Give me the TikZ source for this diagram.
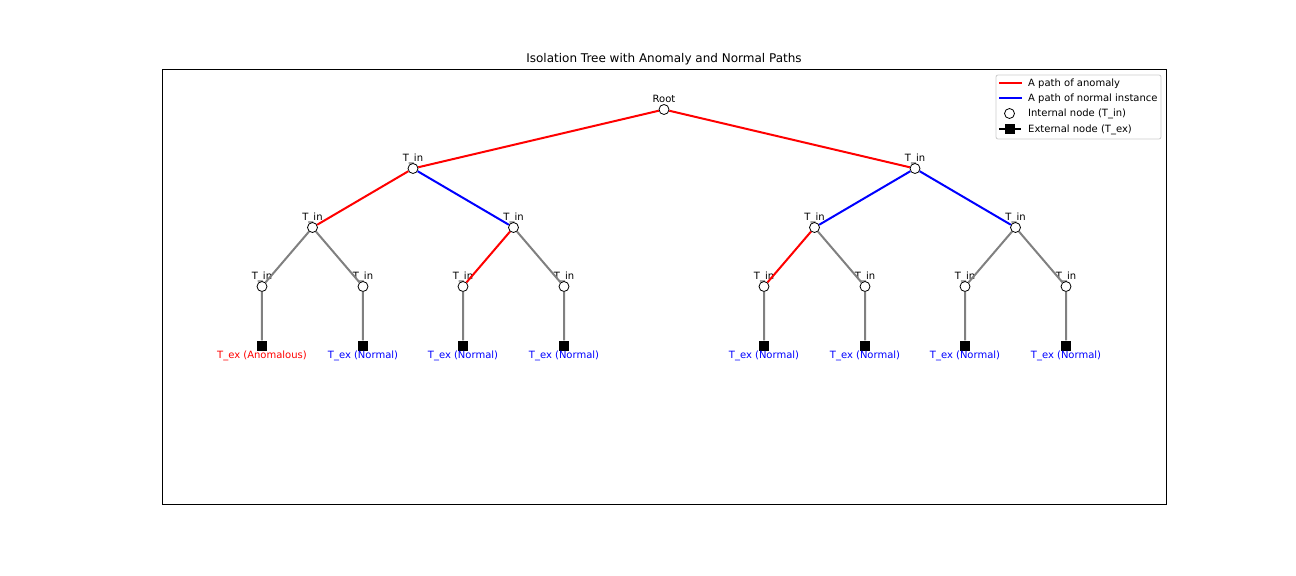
\documentclass[tikz,border=0pt]{standalone}
\usepackage{fontspec}
\setmainfont{DejaVu Sans}

\tikzset{
    tin/.style={circle,draw=black,fill=white,line width=0.8bp,minimum size=10bp,inner sep=0pt,
        label={[anchor=base,label distance=2bp]90:#1}},
    tin/.default={T\_in},
    leafnode/.style={rectangle,fill=black,minimum size=10bp,inner sep=0pt},
    exlbl/.style={anchor=base,label distance=8bp},
    anomleaf/.style={leafnode,label={[exlbl,text=red]270:T\_ex (Anomalous)}},
    normleaf/.style={leafnode,label={[exlbl,text=blue]270:T\_ex (Normal)}},
    anompath/.style={red},
    normpath/.style={blue},
    lgtext/.style={anchor=west,inner sep=0pt}
}

\begin{document}
\begin{tikzpicture}[x=1bp,y=-1bp,font=\fontsize{10bp}{12bp}\selectfont,
    level distance=59bp,
    level 1/.style={sibling distance=502bp},
    level 2/.style={sibling distance=201bp},
    level 3/.style={sibling distance=101bp},
    edge from parent/.style={draw,gray,line width=2bp}]
    \useasboundingbox (0,0) rectangle (1296,576);
    \node[font=\fontsize{12bp}{14bp}\selectfont,anchor=base] (title) at (664,63) {Isolation Tree with Anomaly and Normal Paths};
    \draw[line width=0.8bp] (162,69) rectangle (1166,504);
    \node[tin=Root] (root) at (664,109.5) {}
    child {node[tin]{}
        child {node[tin]{}
            child {node[tin]{}
                child {node[anomleaf]{}}
            }
            child {node[tin]{}
                child {node[normleaf]{}}
            }
            edge from parent[anompath]
        }
        child {node[tin]{}
            child {node[tin]{}
                child {node[normleaf]{}}
                edge from parent[anompath]
            }
            child {node[tin]{}
                child {node[normleaf]{}}
            }
            edge from parent[normpath]
        }
        edge from parent[anompath]
    }
    child {node[tin]{}
        child {node[tin]{}
            child {node[tin]{}
                child {node[normleaf]{}}
                edge from parent[anompath]
            }
            child {node[tin]{}
                child {node[normleaf]{}}
            }
            edge from parent[normpath]
        }
        child {node[tin]{}
            child {node[tin]{}
                child {node[normleaf]{}}
            }
            child {node[tin]{}
                child {node[normleaf]{}}
            }
            edge from parent[normpath]
        }
        edge from parent[anompath]
    };
    % legend
    \draw[rounded corners=2bp,draw=black!20,line width=0.8bp,fill=white] (996,75) rectangle (1161,139);
    \coordinate (lg1a) at (999,83);  \coordinate (lg1b) at (1022,83);
    \coordinate (lg2a) at (999,98);  \coordinate (lg2b) at (1022,98);
    \coordinate (lg4a) at (999,129.5); \coordinate (lg4b) at (1021,129.5);
    \draw[red,line width=2.7bp] (lg1a) -- (lg1b);
    \draw[blue,line width=2.7bp] (lg2a) -- (lg2b);
    \node[circle,draw=black,fill=white,line width=0.8bp,minimum size=10bp,inner sep=0pt] (lgin) at (1009.5,113.5) {};
    \draw[black,line width=2bp] (lg4a) -- (lg4b);
    \node[leafnode] (lgex) at (1009.5,129.5) {};
    \node[lgtext] (lgt1) at (1028,83.5) {A path of anomaly};
    \node[lgtext] (lgt2) at (1028,98.5) {A path of normal instance};
    \node[lgtext] (lgt3) at (1028,114) {Internal node (T\_in)};
    \node[lgtext] (lgt4) at (1028,130) {External node (T\_ex)};
\end{tikzpicture}
\end{document}
